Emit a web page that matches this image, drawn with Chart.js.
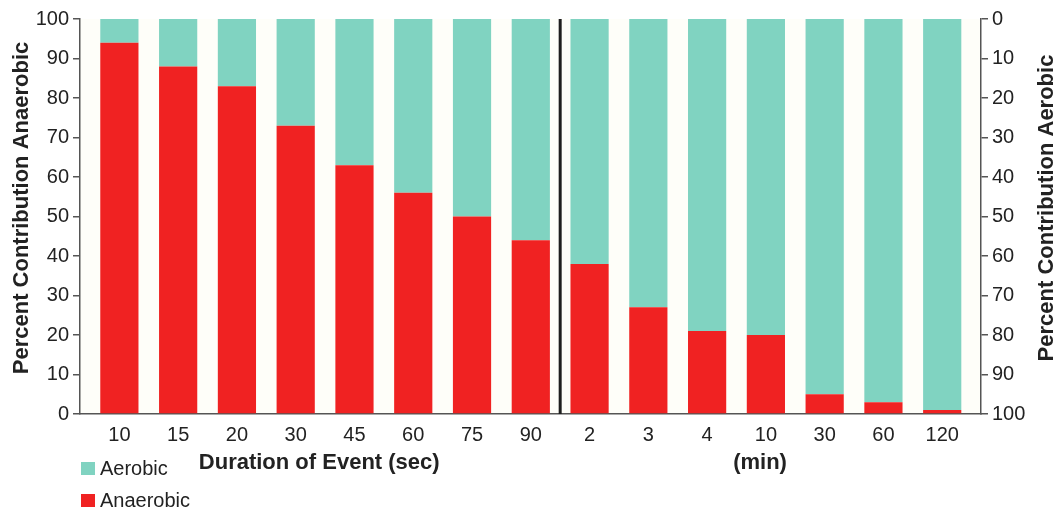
<!DOCTYPE html>
<html lang="en">
<head>
    <meta charset="UTF-8">
    <title>Aerobic vs Anaerobic Contribution</title>
    <style>
        body {
            margin: 0;
            background-color: #ffffff;
        }

        .chart-box {
            position: relative;
            width: 1058px;
            height: 511px;
        }
    </style>
</head>
<body>
<div class="chart-box">
    <canvas id="energyChart"></canvas>
</div>

<script src="https://cdn.jsdelivr.net/npm/chart.js"></script>
<script>
    // Event durations: first 8 in seconds, the rest in minutes
    const durations = ['10', '15', '20', '30', '45', '60', '75', '90', '2', '3', '4', '10', '30', '60', '120'];
    const anaerobic = [94, 88, 83, 73, 63, 56, 50, 44, 38, 27, 21, 20, 5, 3, 1];
    const aerobic = [6, 12, 17, 27, 37, 44, 50, 56, 62, 73, 79, 80, 95, 97, 99];
    const secGroup = [0, 7];   // first and last index of the seconds group
    const minGroup = [8, 14];  // first and last index of the minutes group

    const aerobicColor = '#80d3c1';
    const anaerobicColor = '#f02222';
    const axisColor = '#555555';
    const textColor = '#222222';
    const fontName = '"Liberation Sans", Arial, sans-serif';

    const decorPlugin = {
        id: 'decor',
        beforeDraw(chart) {
            const {ctx, chartArea} = chart;
            ctx.save();
            ctx.fillStyle = '#fefef9';
            ctx.fillRect(chartArea.left, chartArea.top, chartArea.right - chartArea.left, chartArea.bottom - chartArea.top);
            ctx.restore();
        },
        afterDatasetsDraw(chart) {
            // divider between seconds and minutes
            const {ctx, chartArea} = chart;
            const x = chart.scales.x.getPixelForValue((secGroup[1] + minGroup[0]) / 2);
            ctx.save();
            ctx.strokeStyle = '#1e1e1e';
            ctx.lineWidth = 3;
            ctx.beginPath();
            ctx.moveTo(x, chartArea.top);
            ctx.lineTo(x, chartArea.bottom);
            ctx.stroke();
            ctx.restore();
        },
        afterDraw(chart) {
            const {ctx} = chart;
            const xs = chart.scales.x;
            ctx.save();
            ctx.fillStyle = textColor;

            // x titles
            ctx.font = 'bold 22px ' + fontName;
            ctx.textAlign = 'center';
            ctx.textBaseline = 'alphabetic';
            ctx.fillText('Duration of Event (sec)', xs.getPixelForValue((secGroup[0] + secGroup[1]) / 2 - 0.1), 469);
            ctx.fillText('(min)', xs.getPixelForValue((minGroup[0] + minGroup[1]) / 2 - 0.1), 469);

            // y titles, both read bottom to top
            ctx.save();
            ctx.translate(28, 208);
            ctx.rotate(-Math.PI / 2);
            ctx.fillText('Percent Contribution Anaerobic', 0, 0);
            ctx.restore();

            ctx.save();
            ctx.translate(1053, 208);
            ctx.rotate(-Math.PI / 2);
            ctx.fillText('Percent Contribution Aerobic', 0, 0);
            ctx.restore();

            // legend
            const items = [
                {label: 'Aerobic', color: aerobicColor, y: 475},
                {label: 'Anaerobic', color: anaerobicColor, y: 507}
            ];
            ctx.font = '20px ' + fontName;
            ctx.textAlign = 'left';
            items.forEach(item => {
                ctx.fillStyle = item.color;
                ctx.fillRect(81, item.y - 13, 14, 13);
                ctx.fillStyle = textColor;
                ctx.fillText(item.label, 100, item.y);
            });
            ctx.restore();
        }
    };

    new Chart(document.getElementById('energyChart').getContext('2d'), {
        type: 'bar',
        data: {
            datasets: [{
                label: 'Anaerobic',
                data: anaerobic.map((v, i) => ({x: i, y: v})),
                backgroundColor: anaerobicColor,
                borderWidth: 0,
                yAxisID: 'y'
            }, {
                label: 'Aerobic',
                data: aerobic.map((v, i) => ({x: i, y: v})),
                backgroundColor: aerobicColor,
                borderWidth: 0,
                yAxisID: 'y'
            }]
        },
        options: {
            responsive: true,
            maintainAspectRatio: false,
            animation: false,
            layout: {
                padding: {top: 19, right: 0, bottom: 0, left: 0}
            },
            datasets: {
                bar: {
                    barPercentage: 0.65,
                    categoryPercentage: 1
                }
            },
            plugins: {
                legend: {display: false},
                tooltip: {enabled: false}
            },
            scales: {
                x: {
                    type: 'linear',
                    stacked: true,
                    offset: false,
                    min: -0.67,
                    max: 14.66,
                    afterFit(scale) { scale.height = 97; },
                    grid: {display: false, drawTicks: false},
                    border: {display: true, color: axisColor, width: 1.5},
                    ticks: {
                        stepSize: 1,
                        includeBounds: false,
                        autoSkip: false,
                        maxRotation: 0,
                        padding: 9,
                        color: textColor,
                        font: {family: fontName, size: 20}
                    ,
                        callback: value => Number.isInteger(value) ? durations[value] : ''
                    }
                },
                y: {
                    position: 'left',
                    stacked: true,
                    min: 0,
                    max: 100,
                    afterFit(scale) { scale.width = 80; },
                    grid: {drawOnChartArea: false, tickLength: 7, color: axisColor, lineWidth: 1.5},
                    border: {display: true, color: axisColor, width: 1.5},
                    ticks: {
                        stepSize: 10,
                        padding: 4,
                        color: textColor,
                        font: {family: fontName, size: 20}
                    }
                },
                y2: {
                    position: 'right',
                    reverse: true,
                    min: 0,
                    max: 100,
                    afterFit(scale) { scale.width = 77; },
                    grid: {drawOnChartArea: false, tickLength: 7, color: axisColor, lineWidth: 1.5},
                    border: {display: true, color: axisColor, width: 1.5},
                    ticks: {
                        stepSize: 10,
                        padding: 4,
                        color: textColor,
                        font: {family: fontName, size: 20}
                    }
                }
            }
        },
        plugins: [decorPlugin]
    });
</script>
</body>
</html>
